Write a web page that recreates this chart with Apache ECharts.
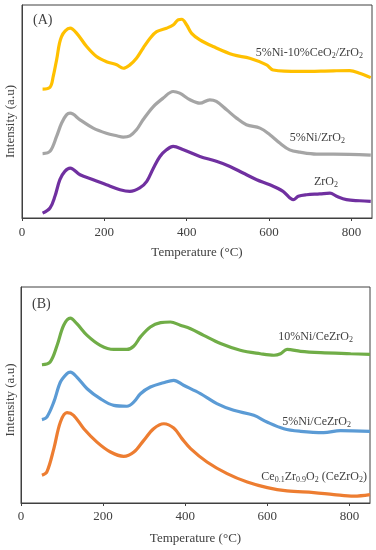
<!DOCTYPE html>
<html><head><meta charset="utf-8">
<script src="https://cdn.jsdelivr.net/npm/echarts@6/dist/echarts.min.js"></script>
<style>html,body{margin:0;padding:0;background:#fff}#c{width:376px;height:550px}</style>
</head><body><div id="c"></div>
<script>
// Panel A (arbitrary intensity units, 0-100)
const xTicks = [0, 200, 400, 600, 800];
const aYellowX = [50,68,76,84,96,117,133,157,181,205,230,246,262,278,294,311,327,351,367,379,388,400,412,432,464,513,553,594,610,675,756,796,820,847];
const aYellowY = [60.5,61.4,66.6,74.2,85.2,89.1,86.7,80.5,75.8,73.4,71.9,70.3,71.9,75.0,79.7,84.4,87.5,89.1,90.6,93.0,93.3,90.6,86.7,83.6,80.5,76.6,75.0,71.9,69.5,68.8,69.1,69.2,68.0,65.9];
const aGreyX = [50,68,84,96,108,117,141,173,205,230,246,262,278,294,319,343,367,383,408,432,456,472,497,521,545,578,602,626,650,675,715,756,847];
const aGreyY = [30.2,31.3,38.3,44.5,48.4,49.2,46.1,42.2,39.8,38.6,38.0,38.6,41.4,46.1,52.3,56.3,59.4,58.6,55.5,53.9,55.5,54.7,50.8,46.9,43.8,42.2,39.1,35.2,32.0,30.9,30.0,30.0,29.5];
const aPurpleX = [50,68,80,92,104,117,141,173,205,238,262,286,303,319,335,351,367,392,432,472,505,537,570,602,634,659,671,691,723,748,764,788,820,847];
const aPurpleY = [2.3,4.7,10.2,18.0,21.9,23.4,20.3,18.0,15.6,13.3,12.5,14.1,17.2,23.4,28.9,32.0,33.6,32.0,28.9,26.6,24.2,21.1,18.0,15.6,12.5,8.6,10.2,10.9,11.3,11.7,10.2,8.6,8.1,7.8];
// Panel B
const bGreenX = [51,71,88,104,120,136,161,193,226,258,275,291,315,340,364,388,413,445,486,534,583,616,632,648,681,730,803,850];
const bGreenY = [64.0,65.3,73.0,82.3,85.6,83.0,77.6,73.0,71.1,71.1,72.7,76.9,81.5,83.5,83.8,82.3,80.7,77.6,73.8,70.7,69.1,68.4,69.1,71.1,70.2,69.6,69.1,68.8];
const bBlueX = [51,63,80,96,112,120,136,161,193,226,258,275,291,315,347,372,396,437,477,518,567,599,640,681,737,778,850];
const bBlueY = [38.6,39.8,46.8,56.0,59.9,60.6,58.3,52.9,48.3,45.2,44.8,46.8,50.6,53.7,55.7,56.8,54.5,50.6,46.0,42.9,40.6,37.5,34.4,33.2,32.6,33.5,33.2];
const bOrangeX = [51,63,80,96,112,128,153,185,218,250,275,299,323,348,372,392,413,453,502,551,600,648,713,762,811,850];
const bOrangeY = [12.8,14.4,25.2,37.5,41.8,40.6,34.4,28.2,23.6,21.6,23.6,29.0,34.4,36.7,34.7,29.8,25.2,19.0,13.6,9.7,7.1,5.6,4.8,3.9,3.2,3.9];

const seriesNamesA = ['5%Ni-10%CeO{s|2}/ZrO{s|2}', '5%Ni/ZrO{s|2}', 'ZrO{s|2}'];
const seriesNamesB = ['10%Ni/CeZrO{s|2}', '5%Ni/CeZrO{s|2}', 'Ce{s|0.1}Zr{s|0.9}O{s|2} (CeZrO{s|2})'];

const FONT = '"Liberation Serif", "Times New Roman", serif';
const TXT = '#404040';
const zip = (xs, ys) => xs.map((x, i) => [x, ys[i]]);

function xAxis(idx, margin, gap) {
  return {
    type: 'value', gridIndex: idx, min: 0, max: 850, interval: 200,
    name: 'Temperature (°C)', nameLocation: 'middle', nameGap: gap,
    nameTextStyle: { fontFamily: FONT, fontSize: 13, color: TXT },
    axisLine: { show: true, lineStyle: { color: '#404040', width: 1 } },
    axisTick: { show: true, length: 3, lineStyle: { color: '#404040' } },
    axisLabel: { fontFamily: FONT, fontSize: 13, color: TXT, margin: margin, showMaxLabel: false,
      formatter: v => (xTicks.indexOf(v) >= 0 ? String(v) : '') },
    splitLine: { show: false }
  };
}
function yAxis(idx, gap, pad) {
  return {
    type: 'value', gridIndex: idx, min: 0, max: 100,
    name: 'Intensity (a.u)', nameLocation: 'middle', nameGap: gap,
    nameTextStyle: { fontFamily: FONT, fontSize: 13, color: TXT, padding: pad },
    axisLine: { show: true, lineStyle: { color: '#404040', width: 1 } },
    axisTick: { show: false }, axisLabel: { show: false }, splitLine: { show: false }
  };
}
function line(idx, data, color) {
  return { type: 'line', xAxisIndex: idx, yAxisIndex: idx, data: data, smooth: 0.35,
    showSymbol: false, lineStyle: { color: color, width: 3.2 }, itemStyle: { color: color }, silent: true };
}
const rich = {
  s: { fontFamily: FONT, fontSize: 8, fill: TXT, color: TXT, verticalAlign: 'bottom', lineHeight: 9, padding: [4, 0, 0, 0] }
};
function label(text, x, y, align, size) {
  return { type: 'text', x: x, y: y, silent: true,
    style: { text: text, fontFamily: FONT, fontSize: size || 12, fill: TXT, align: align || 'right',
      verticalAlign: 'middle', lineHeight: 14, rich: rich } };
}

const chart = echarts.init(document.getElementById('c'), null, { renderer: 'canvas' });
chart.setOption({
  animation: false,
  backgroundColor: '#fff',
  grid: [
    { left: 22, top: 5, width: 350, height: 213, show: true, borderColor: '#404040', borderWidth: 1, containLabel: false, outerBoundsMode: 'none' },
    { left: 21, top: 287, width: 349, height: 216, show: true, borderColor: '#404040', borderWidth: 1, containLabel: false, outerBoundsMode: 'none' }
  ],
  xAxis: [xAxis(0, 8, 28), xAxis(1, 7, 29)],
  yAxis: [yAxis(0, 5, [0, 20, 0, 0]), yAxis(1, 4, [0, 10, 0, 0])],
  series: [
    line(0, zip(aYellowX, aYellowY), '#FFC000'),
    line(0, zip(aGreyX, aGreyY), '#A5A5A5'),
    line(0, zip(aPurpleX, aPurpleY), '#7030A0'),
    line(1, zip(bGreenX, bGreenY), '#70AD47'),
    line(1, zip(bBlueX, bBlueY), '#5B9BD5'),
    line(1, zip(bOrangeX, bOrangeY), '#ED7D31')
  ],
  graphic: [
    label('(A)', 33, 20, 'left', 14),
    label(seriesNamesA[0], 363, 53),
    label(seriesNamesA[1], 345, 138),
    label(seriesNamesA[2], 338, 182),
    label('(B)', 32, 304, 'left', 14),
    label(seriesNamesB[0], 353, 337),
    label(seriesNamesB[1], 351, 422),
    label(seriesNamesB[2], 367, 477)
  ]
});
</script></body></html>
